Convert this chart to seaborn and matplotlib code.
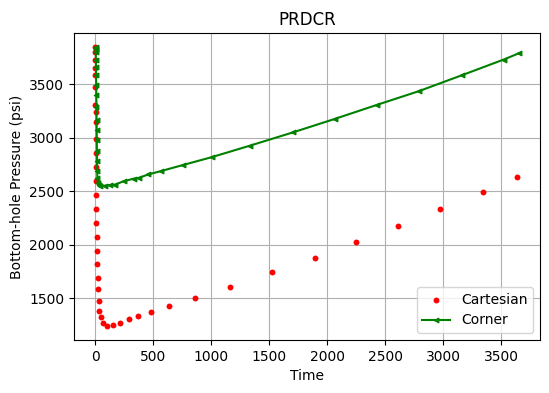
import matplotlib
matplotlib.use("Agg")
import numpy as np
import pandas as pd
import matplotlib.pyplot as plt
import seaborn as sns

# Cartesian model (red dots)
cart_time = [0.05, 0.1, 0.2, 0.4, 0.6, 1, 1.5, 2, 3, 4, 5, 6, 7, 8, 9, 10, 11, 12,
             16, 20, 24, 30, 34, 46, 63, 100, 150, 210, 287, 365, 477, 632, 856,
             1158, 1520, 1891, 2253, 2615, 2977, 3347, 3641]
cart_bhp = [3844, 3800, 3730, 3650, 3590, 3470, 3310, 3240, 3150, 2990, 2860, 2725,
            2598, 2465, 2334, 2204, 2074, 1944, 1823, 1693, 1584, 1472, 1379, 1323,
            1265, 1240, 1246, 1265, 1302, 1330, 1367, 1423, 1506, 1609, 1748, 1879,
            2028, 2176, 2334, 2493, 2632]

# Corner model (green line)
corner_time = [2, 3, 4, 5, 6, 7, 8, 9, 10, 11, 12, 13, 14, 15, 16, 18, 22, 28, 40,
               84, 127, 170, 244, 330, 379, 457, 566, 753, 1003, 1334, 1702, 2066,
               2426, 2790, 3159, 3523, 3655]
corner_bhp = [3845, 3830, 3799, 3722, 3660, 3583, 3491, 3398, 3290, 3167, 3074, 2981,
              2873, 2781, 2688, 2626, 2580, 2558, 2549,
              2552, 2558, 2562, 2593, 2617, 2626, 2657, 2688, 2744, 2818, 2926, 3049,
              3176, 3306, 3435, 3583, 3731, 3790]

cart = pd.DataFrame({"Time": cart_time, "BHP": cart_bhp})
corner = pd.DataFrame({"Time": corner_time, "BHP": corner_bhp})

fig, ax = plt.subplots(figsize=(5.49, 3.93), dpi=100)
fig.subplots_adjust(left=0.135, right=0.984, top=0.915, bottom=0.135)

sns.scatterplot(data=cart, x="Time", y="BHP", ax=ax, color="red", marker="o",
                s=18, linewidth=0, label="Cartesian", zorder=2)
sns.lineplot(data=corner, x="Time", y="BHP", ax=ax, color="green", marker="<",
             markersize=3.5, markeredgecolor="green", linewidth=1.5,
             estimator=None, sort=False, label="Corner", zorder=3)

ax.grid(True, color="#b0b0b0", linewidth=0.8)
ax.set_axisbelow(True)
ax.set_title("PRDCR")
ax.set_xlabel("Time")
ax.set_ylabel("Bottom-hole Pressure (psi)")
ax.legend(loc="lower right")

fig.savefig("out.png", dpi=100)
